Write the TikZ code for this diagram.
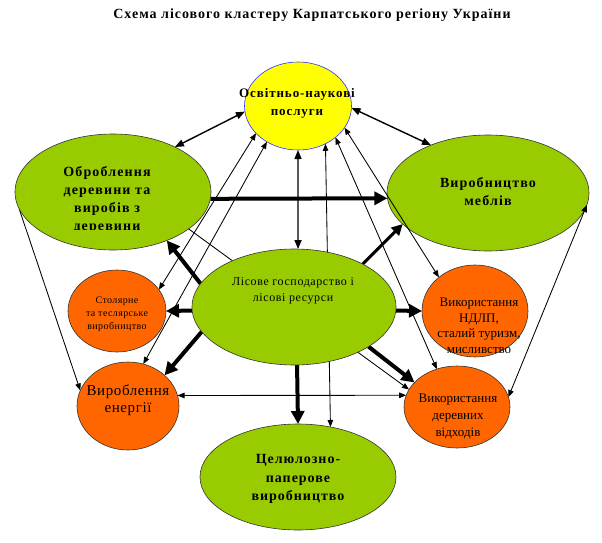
\documentclass[tikz,border=0pt]{standalone}
\usepackage{fontspec}
\setmainfont{Liberation Serif}
\usetikzlibrary{arrows.meta,shapes.geometric}
\definecolor{cgreen}{HTML}{99CC00}
\definecolor{corange}{HTML}{FF6600}
\definecolor{cyellow}{HTML}{FFFF00}
\definecolor{cblue}{HTML}{3333FF}
\pgfdeclarelayer{back}
\pgfdeclarelayer{links}
\pgfsetlayers{back,links,main}
\newcommand{\bsp}[1]{\bfseries\addfontfeature{LetterSpace=#1}}
\newcommand{\rsp}[1]{\addfontfeature{LetterSpace=#1}}
\tikzset{
  tn/.tip={Triangle[length=7pt,width=5.5pt]},
  tm/.tip={Triangle[length=9pt,width=7pt]},
  tk/.tip={Triangle[length=13pt,width=13pt]},
  ell/.style={ellipse, draw=black!80, line width=0.6pt, inner sep=0pt, outer sep=0pt},
  grn/.style={ell, fill=cgreen},
  org/.style={ell, fill=corange},
  txt/.style={align=center, inner sep=0pt, text=black},
  thinlink/.style={line width=0.85pt},
  medlink/.style={line width=1.4pt},
  heavylink/.style={line width=4pt},
}
\begin{document}
\begin{tikzpicture}[x=1pt,y=-1pt]
\begin{pgfonlayer}{back}
\fill[white] (0,0) rectangle (602,543);
\node[grn, minimum width=202pt, minimum height=116pt] (R) at (488,193) {};
\end{pgfonlayer}
\useasboundingbox (0,0) rectangle (602,543);

\node[txt, font=\fontsize{14}{16}\selectfont\bsp{7}] (title) at (312,15) {Схема лісового кластеру Карпатського регіону України};

\node[ell, draw=cblue, fill=cyellow, minimum width=107pt, minimum height=88pt] (Y) at (298,106) {};
\node[grn, minimum width=196pt, minimum height=116pt] (L) at (113,192) {};
\node[grn, minimum width=204pt, minimum height=116pt] (C) at (294,307) {};
\node[org, minimum width=98pt, minimum height=82pt] (S) at (117,311) {};
\node[org, minimum width=102pt, minimum height=88pt] (E) at (128,406) {};
\node[org, minimum width=106pt, minimum height=92pt] (N) at (475,311) {};
\node[org, minimum width=106pt, minimum height=82pt] (W) at (457,407) {};
\node[grn, minimum width=196pt, minimum height=106pt] (P) at (298,477) {};

% texts
\node[txt, font=\fontsize{13}{18}\selectfont\bsp{7}] (Yt) at (297,103) {Освітньо-наукові\\послуги};
\begin{scope}
\clip (30,150) rectangle (200,229);
\node[txt, font=\fontsize{14}{18}\selectfont\bsp{8}] (Lt) at (107,200) {Оброблення\\деревини та\\виробів з\\деревини};
\end{scope}
\node[txt, font=\fontsize{14}{18}\selectfont\bsp{8}] (Rt) at (488,192) {Виробництво\\меблів};
\node[txt, font=\fontsize{12}{16}\selectfont\rsp{5}] (Ct) at (293,291) {Лісове господарство і\\лісові ресурси};
\node[txt, font=\fontsize{10}{13}\selectfont\rsp{4}] (St) at (117,314) {Столярне\\та теслярське\\виробництво};
\node[txt, font=\fontsize{15}{17}\selectfont\rsp{4}] (Et) at (128,400) {Вироблення\\енергії};
\node[txt, font=\fontsize{13}{15.5}\selectfont] (Nt) at (479,326) {Використання\\НДЛП,\\сталий туризм,\\мисливство};
\node[txt, font=\fontsize{13}{17}\selectfont] (Wt) at (458,416) {Використання\\деревних\\відходів};
\node[txt, font=\fontsize{14}{18.5}\selectfont\bsp{7}] (Pt) at (298,479) {Целюлозно-\\паперове\\виробництво};

\begin{pgfonlayer}{links}
% medium double arrows from the yellow node
\draw[medlink, tm-tm] (Y.186) -- (L.36);
\draw[medlink, tm-tm] (Y.-2) -- (R.140);
\draw[medlink, tm-tm] (Y.-90) -- (C.86);
% thin double arrows
\draw[thinlink, tn-tn] (Y.-54) -- (P.57);
\draw[thinlink, tn-tn] (Y.213) -- (S.27);
\draw[thinlink, tn-tn] (Y.229) -- (E.70);
\draw[thinlink, tn-tn] (Y.-40) -- (W.118);
\draw[thinlink, tn-tn] (R.-7) -- (W.11);
\draw[thinlink, tn-tn] (E.12) -- (W.167);
% thin single arrows
\draw[thinlink, -tn] (L.190) -- (E.162);
\draw[thinlink, -tn] (L.-26) -- (W.160);
% heavy arrows
\draw[heavylink, -tk] (L.-4) -- (R.183.4);
\draw[heavylink, -tk] (C.166) -- (L.-42);
\draw[heavylink, -tk] (C.182) -- (S.0);
\draw[heavylink, -tk] (C.195.5) -- (E.40);
\draw[heavylink, -tk] (C.-87) -- (P.90);
\draw[heavylink, -tk] (C.-28) -- (W.150);
\draw[heavylink, -tk] (C.-2) -- (N.180);
\draw[line width=3pt, -{Triangle[length=11pt,width=11pt]}] (C.32) -- (R.200);
% line drawn over the furniture ellipse
\draw[thinlink, tn-tn] (Y.-25) -- (N.137);
\end{pgfonlayer}
\end{tikzpicture}
\end{document}
